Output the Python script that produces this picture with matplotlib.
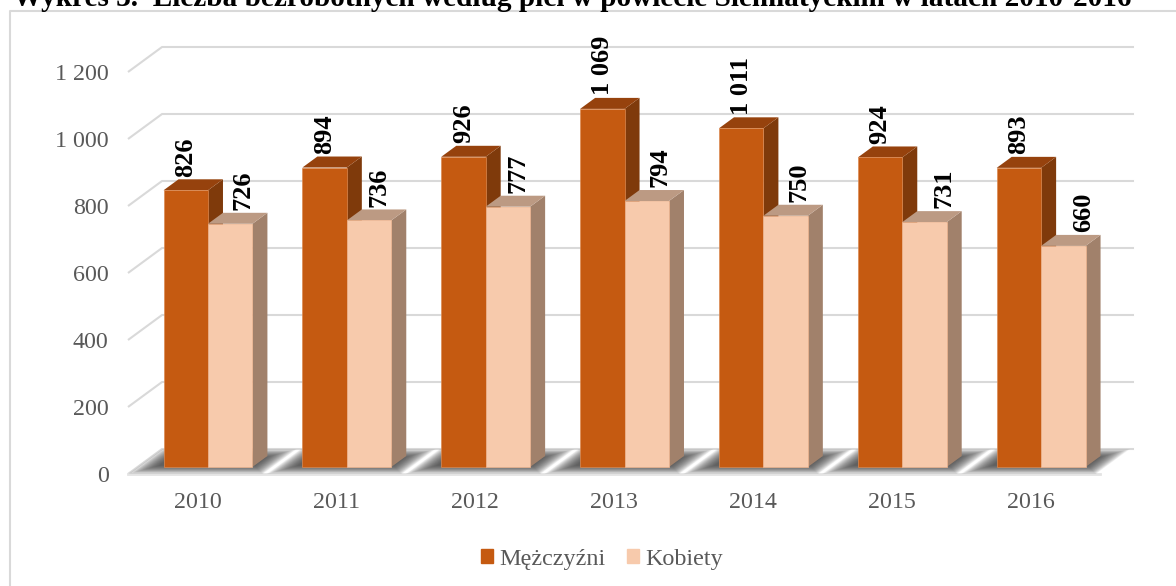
# -*- coding: utf-8 -*-
import matplotlib
matplotlib.use('Agg')
import matplotlib.pyplot as plt
from matplotlib.lines import Line2D
from matplotlib.patches import Patch

plt.rcParams['font.family'] = ['Liberation Serif', 'DejaVu Serif']

years = ['2010', '2011', '2012', '2013', '2014', '2015', '2016']
men = [826, 894, 926, 1069, 1011, 924, 893]
women = [726, 736, 777, 794, 750, 731, 660]
men_labels = ['826', '894', '926', '1 069', '1 011', '924', '893']
women_labels = ['726', '736', '777', '794', '750', '731', '660']
y_ticks = [0, 200, 400, 600, 800, 1000, 1200]
y_labels = ['0', '200', '400', '600', '800', '1 000', '1 200']

W, H = 1176, 586
GRID = '#d9d9d9'
TXT = '#595959'
MEN_COL = ('#c55a11', '#96420d', '#7f3a0b', '#dc8a52')     # front, top, side, edge
WOMEN_COL = ('#f7caac', '#bc9a83', '#a1816b', '#eeb48e')

fig = plt.figure(figsize=(W / 100, H / 100), dpi=100)
ax = fig.add_axes([128 / W, 1 - 474 / H, 972 / W, 402 / H])
ax.set_xlim(-0.5, 6.5)
ax.set_ylim(0, 1200)
for s in ax.spines.values():
    s.set_visible(False)

# depth of the fake 3d box, in data units
DX, DY = 0.245, 74.6
SHIFT_X, SHIFT_Y = 0.076, 20.9    # bars stand a bit inside the floor
BAR_DX, BAR_DY = 0.108, 32.8
BAR_W = 0.32

# walls
for v in y_ticks:
    ax.plot([-0.5, -0.5 + DX, 6.5 + DX], [v, v + DY, v + DY], color=GRID, lw=1.5,
            clip_on=False, zorder=1, solid_capstyle='butt')
ax.plot([-0.5, 6.5], [0, 0], color='#e4e4e4', lw=2, clip_on=False, zorder=1)

# floor shadow, stacked polygons to get the soft edge
n_layers = 22
for i in range(len(years)):
    for k in range(n_layers):
        ins = k / n_layers
        t0, t1 = 0.0 + 0.36 * ins, 1.0 - 0.36 * ins
        u0, u1 = i - 0.5 + 0.15 * ins, i + 0.47 - 0.15 * ins
        xs = [u0 + t0 * DX, u1 + t0 * DX, u1 + t1 * DX, u0 + t1 * DX]
        ys = [t0 * DY, t0 * DY, t1 * DY, t1 * DY]
        ax.fill(xs, ys, color='#3a3a3a', alpha=0.065, lw=0, clip_on=False, zorder=2)


def bar3d(x0, val, cols, z):
    x1 = x0 + BAR_W
    y0 = SHIFT_Y
    y1 = val + SHIFT_Y
    ax.fill([x1, x1 + BAR_DX, x1 + BAR_DX, x1], [y0, y0 + BAR_DY, y1 + BAR_DY, y1],
            color=cols[2], lw=0, clip_on=False, zorder=z)
    ax.fill([x0, x1, x1 + BAR_DX, x0 + BAR_DX], [y1, y1, y1 + BAR_DY, y1 + BAR_DY],
            color=cols[1], lw=0, clip_on=False, zorder=z)
    ax.bar(x0, val, BAR_W, bottom=y0, align='edge', color=cols[0], edgecolor=cols[3], lw=0.5,
           clip_on=False, zorder=z + 0.1)


# women labels drift right from the bar, offset differs per label in the original
women_shift = [0.094, 0.072, 0.072, 0.094, 0.094, 0.137, 0.144]

for i in range(len(years)):
    xm = i + SHIFT_X - BAR_W
    xw = i + SHIFT_X
    bar3d(xm, men[i], MEN_COL, 3 + i * 0.3)
    bar3d(xw, women[i], WOMEN_COL, 3.1 + i * 0.3)
    ax.text(xm + BAR_W / 2, men[i] + SHIFT_Y + BAR_DY + 8, men_labels[i], rotation=90,
            ha='center', va='bottom', fontsize=19, fontweight='bold', color='black', zorder=9)
    ax.text(xw + BAR_W / 2 + women_shift[i], women[i] + SHIFT_Y + BAR_DY + 8, women_labels[i], rotation=90,
            ha='center', va='bottom', fontsize=19, fontweight='bold', color='black', zorder=9)

ax.set_xticks(range(len(years)))
ax.set_xticklabels(years)
ax.set_yticks(y_ticks)
ax.set_yticklabels(y_labels)
ax.tick_params(axis='x', length=0, pad=13, labelsize=17.3, labelcolor=TXT)
ax.tick_params(axis='y', length=0, pad=14, labelsize=17.3, labelcolor=TXT)

handles = [Patch(color=MEN_COL[0], label='Mężczyźni'), Patch(color=WOMEN_COL[0], label='Kobiety')]
fig.legend(handles=handles, loc='center', bbox_to_anchor=(602 / W, 1 - 559 / H), ncol=2, frameon=False,
           fontsize=17.4, labelcolor=TXT, handlelength=0.5, handleheight=0.5, handletextpad=0.25,
           columnspacing=0.9, borderpad=0)

# chart border and the title cut by the top edge
fig.add_artist(Line2D([10 / W, 10 / W, 1], [0, 1 - 11 / H, 1 - 11 / H], color=GRID, lw=1.5))
fig.text(572.5 / W, 1 - 6 / H, 'Wykres 3.  Liczba bezrobotnych według płci w powiecie Siemiatyckim w latach 2010-2016',
         ha='center', va='baseline', fontsize=21.05, fontweight='bold', color='black')

fig.savefig('out.png', dpi=100)
